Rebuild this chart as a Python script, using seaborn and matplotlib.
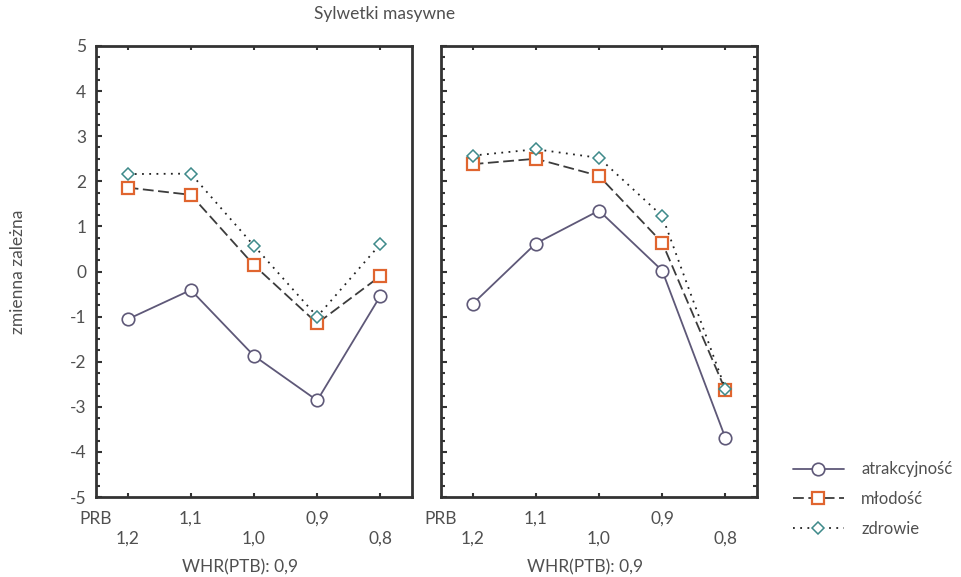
import matplotlib
matplotlib.use("Agg")
import matplotlib.pyplot as plt
import seaborn as sns
import pandas as pd
from matplotlib.ticker import MultipleLocator

# ---- data ----
categories = ["1,2", "1,1", "1,0", "0,9", "0,8"]
series_names = ["atrakcyjność", "młodość", "zdrowie"]

left_atr = [-1.06, -0.41, -1.87, -2.86, -0.54]
left_mlo = [1.86, 1.70, 0.14, -1.15, -0.10]
left_zdr = [2.16, 2.17, 0.57, -1.00, 0.61]

right_atr = [-0.72, 0.62, 1.35, 0.02, -3.69]
right_mlo = [2.38, 2.50, 2.12, 0.64, -2.63]
right_zdr = [2.57, 2.71, 2.52, 1.23, -2.60]

title = "Sylwetki masywne"
y_label = "zmienna zależna"
x_label = "WHR(PTB): 0,9"
prb_label = "PRB"
y_ticks = [-5, -4, -3, -2, -1, 0, 1, 2, 3, 4, 5]

sns.set_theme(style="white")
plt.rcParams['font.family'] = ['Lato', 'DejaVu Sans']
txt_col = "#505050"
spine_col = "#333333"
fs = 12.5

styles = {
    "atrakcyjność": dict(color="#5e5878", linestyle="-", linewidth=1.3, marker="o",
                         markersize=9, markerfacecolor="white", markeredgecolor="#5e5878",
                         markeredgewidth=1.2),
    "młodość": dict(color="#3c3c3c", linestyle=(0, (6, 2.5)), linewidth=1.3, marker="s",
                    markersize=9, markerfacecolor="white", markeredgecolor="#e0652f",
                    markeredgewidth=1.6),
    "zdrowie": dict(color="#222222", linestyle=(0, (1, 3)), linewidth=1.3, marker="D",
                    markersize=6, markerfacecolor="white", markeredgecolor="#3e8a8a",
                    markeredgewidth=1.1),
}

panels = [
    {"atrakcyjność": left_atr, "młodość": left_mlo, "zdrowie": left_zdr},
    {"atrakcyjność": right_atr, "młodość": right_mlo, "zdrowie": right_zdr},
]

fig = plt.figure(figsize=(9.61, 5.77), dpi=100)
W, H = 961, 577
axes_px = [(96, 46, 316, 451), (441, 46, 316, 451)]

for i, (panel, (x0, y0, w, h)) in enumerate(zip(panels, axes_px)):
    ax = fig.add_axes([x0 / W, 1 - (y0 + h) / H, w / W, h / H])
    for name in series_names:
        df = pd.DataFrame({"x": categories, "y": panel[name]})
        sns.lineplot(data=df, x="x", y="y", ax=ax, sort=False, label=name if i == 0 else None,
                     legend=False, **styles[name])
    ax.set_xlim(-0.5, 4.5)
    ax.set_ylim(-5, 5)
    for s in ax.spines.values():
        s.set_visible(True)
        s.set_color(spine_col)
        s.set_linewidth(2)
    # x ticks: staggered labels
    ax.set_xticks(range(len(categories)))
    labs = [("\n" + c) if k % 2 == 0 else (c + "\n") for k, c in enumerate(categories)]
    ax.set_xticklabels(labs, linespacing=1.3, color=txt_col, fontsize=fs)
    ax.text(-0.51, -0.03, prb_label + "\n", transform=ax.get_xaxis_transform(),
            ha="center", va="top", color=txt_col, fontsize=fs, linespacing=1.3)
    ax.set_yticks(y_ticks)
    ax.yaxis.set_minor_locator(MultipleLocator(0.25))
    if i == 0:
        ax.set_yticklabels([str(v) for v in y_ticks], color=txt_col, fontsize=fs)
        ax.tick_params(axis="y", which="both", direction="in", left=True, right=False,
                       colors=spine_col, labelcolor=txt_col, pad=7)
    else:
        ax.tick_params(axis="y", which="both", direction="in", left=True, right=True,
                       labelleft=False, colors=spine_col)
    ax.tick_params(axis="y", which="major", length=4, width=1.5)
    ax.tick_params(axis="y", which="minor", length=3, width=1.5)
    ax.tick_params(axis="x", which="major", direction="in", bottom=True, top=True,
                   length=3, width=1.5, colors=spine_col, labelcolor=txt_col, pad=10)
    ax.set_xlabel(x_label, color=txt_col, fontsize=fs)
    ax.xaxis.set_label_coords(0.457, -0.138)
    ax.set_ylabel("")
    ax.grid(False)
    if i == 0:
        handles, lbls = ax.get_legend_handles_labels()

fig.legend(handles, lbls, loc="center left", bbox_to_anchor=(778 / W, 1 - 499 / H),
           frameon=False, handlelength=3.05, handletextpad=1.05, labelspacing=0.82,
           numpoints=1, fontsize=12, labelcolor=txt_col)

fig.text(385 / W, 1 - 14 / H, title, ha="center", va="center", color=txt_col, fontsize=fs)
fig.text(18 / W, 1 - 272 / H, y_label, ha="center", va="center", rotation=90,
         color=txt_col, fontsize=fs)

fig.savefig("out.png", dpi=100)
